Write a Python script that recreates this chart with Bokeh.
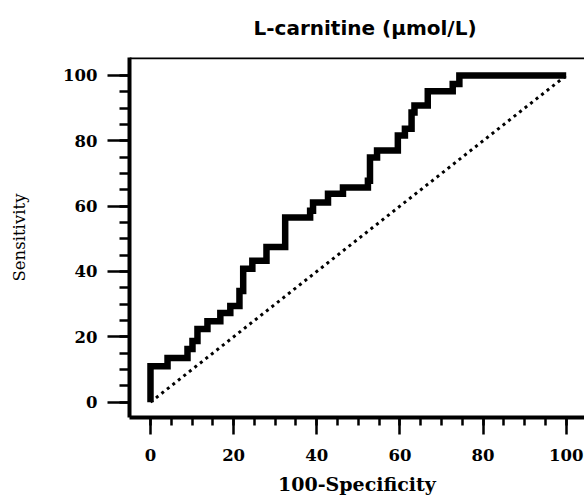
from bokeh.plotting import figure
from bokeh.models import FixedTicker, Span, Range1d
from bokeh.embed import file_html
from bokeh.resources import INLINE

# ROC operating points (100-Specificity, Sensitivity)
fpr = [0, 0, 4.1, 8.9, 10.1, 11.3, 13.7, 16.8, 19.2, 21.4, 22.3, 24.5, 27.9,
       32.4, 38.4, 39.1, 42.7, 46.3, 52.3, 52.8, 54.5, 59.5, 61.2, 62.8, 63.5,
       66.7, 72.7, 74.3, 100]
tpr = [0, 11.0, 13.5, 16.3, 18.7, 22.4, 24.8, 27.3, 29.4, 34.0, 40.8, 43.3, 47.5,
       56.5, 58.6, 61.1, 63.8, 65.7, 67.8, 74.9, 77.0, 81.6, 83.7, 88.7, 90.8,
       95.2, 97.4, 100, 100]
ref_x = [0, 100]
ref_y = [0, 100]
major_ticks = [0, 20, 40, 60, 80, 100]
minor_ticks = list(range(0, 101, 5))

title = "L-carnitine (\u03bcmol/L)"
x_label = "100-Specificity"
y_label = "Sensitivity"

p = figure(width=584, height=497, output_backend="svg", toolbar_location=None,
           x_range=Range1d(-5.05, 104.4), y_range=Range1d(-4.7, 105.5),
           min_border_left=129, min_border_right=0, min_border_top=57,
           min_border_bottom=80, title=title)

p.title.text_font = "DejaVu Sans"
p.title.text_font_style = "bold"
p.title.text_font_size = "20px"
p.title.align = "left"
p.title.offset = 124
p.title.vertical_align = "top"
p.title.standoff = 31
p.title.text_color = "black"

p.outline_line_color = None
p.xgrid.visible = False
p.ygrid.visible = False
p.background_fill_color = "white"
p.border_fill_color = "white"

for ax in (p.xaxis[0], p.yaxis[0]):
    ax.ticker = FixedTicker(ticks=major_ticks, minor_ticks=minor_ticks)
    ax.axis_line_width = 4
    ax.axis_line_color = "black"
    ax.major_tick_line_width = 2.5
    ax.minor_tick_line_width = 2.5
    ax.major_tick_line_color = "black"
    ax.minor_tick_line_color = "black"
    ax.major_tick_in = 0
    ax.minor_tick_in = 0
    ax.major_label_text_font = "DejaVu Serif"
    ax.major_label_text_font_style = "bold"
    ax.major_label_text_font_size = "16.5px"
    ax.major_label_text_color = "black"
    ax.axis_label_text_font = "DejaVu Serif"
    ax.axis_label_text_color = "black"

p.xaxis[0].major_tick_out = 17
p.xaxis[0].minor_tick_out = 8
p.xaxis[0].major_label_standoff = 14
p.xaxis[0].axis_label = x_label
p.xaxis[0].axis_label_text_font_style = "bold"
p.xaxis[0].axis_label_text_font_size = "19px"
p.xaxis[0].axis_label_standoff = 9

p.yaxis[0].major_tick_out = 22
p.yaxis[0].minor_tick_out = 10
p.yaxis[0].major_label_standoff = 10
p.yaxis[0].axis_label = y_label
p.yaxis[0].axis_label_text_font_style = "normal"
p.yaxis[0].axis_label_text_font_size = "16.5px"
p.yaxis[0].axis_label_standoff = 31

top = Span(location=p.y_range.end, dimension="width", line_color="black", line_width=3.5)
p.add_layout(top)

p.line(ref_x, ref_y, line_color="black", line_width=3, line_dash="3 4")
p.step(fpr, tpr, mode="after", line_color="black", line_width=6.5, line_join="miter")

open("out.html", "w").write(file_html(p, INLINE))
